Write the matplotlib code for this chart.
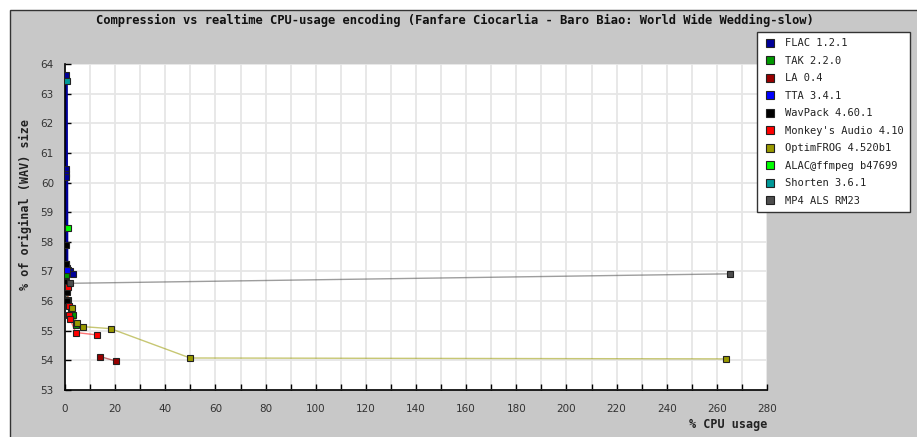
import matplotlib.pyplot as plt
from matplotlib.lines import Line2D
from matplotlib.patches import Rectangle

# values (% CPU usage, % of original size)
flac_cpu = [0.3, 0.35, 0.4, 0.45, 0.5, 0.6, 1.0, 1.8, 3.3]
flac_size = [63.64, 60.45, 60.3, 60.2, 57.25, 57.1, 57.05, 57.0, 56.92]
tak_cpu = [0.4, 0.6, 1.3, 2.3, 3.3, 4.3]
tak_size = [56.89, 56.4, 56.04, 55.76, 55.53, 55.2]
la_cpu = [13.9, 20.2]
la_size = [54.13, 53.98]
tta_cpu = [0.9]
tta_size = [57.05]
wavpack_cpu = [0.3, 0.4, 0.5, 0.6, 0.8]
wavpack_size = [57.9, 57.26, 56.65, 56.3, 56.0]
monkey_cpu = [1.1, 1.4, 1.6, 2.0, 4.3, 12.6]
monkey_size = [56.47, 55.84, 55.53, 55.39, 54.94, 54.86]
ofr_cpu = [2.9, 4.6, 7.0, 18.2, 49.9, 263.6]
ofr_size = [55.76, 55.26, 55.14, 55.07, 54.08, 54.05]
alac_cpu = [1.1]
alac_size = [58.48]
shorten_cpu = [0.6]
shorten_size = [63.42]
als_cpu = [2.0, 265.3]
als_size = [56.6, 56.92]

series = [
    ("FLAC 1.2.1", flac_cpu, flac_size, "#000099"),
    ("TAK 2.2.0", tak_cpu, tak_size, "#009900"),
    ("LA 0.4", la_cpu, la_size, "#990000"),
    ("TTA 3.4.1", tta_cpu, tta_size, "#0000ff"),
    ("WavPack 4.60.1", wavpack_cpu, wavpack_size, "#000000"),
    ("Monkey's Audio 4.10", monkey_cpu, monkey_size, "#ff0000"),
    ("OptimFROG 4.520b1", ofr_cpu, ofr_size, "#999900"),
    ("ALAC@ffmpeg b47699", alac_cpu, alac_size, "#00ff00"),
    ("Shorten 3.6.1", shorten_cpu, shorten_size, "#009999"),
    ("MP4 ALS RM23", als_cpu, als_size, "#4d4d4d"),
]

W, H = 917, 437
fig = plt.figure(figsize=(W / 100, H / 100), dpi=100, facecolor="white")

# grey panel with dark border on top/left, cut off at right and bottom
fig.patches.append(
    Rectangle((10 / W, -0.05), 1.2, (H - 10) / H + 0.05, transform=fig.transFigure,
              facecolor="#c8c8c8", edgecolor="#333333", linewidth=1, zorder=-10)
)

ax = fig.add_axes([65 / W, 47 / H, 702 / W, 326 / H])
ax.set_facecolor("white")

for name, xs, ys, color in series:
    lw = 3 if name.startswith("FLAC") else 1
    alpha = 1.0 if name.startswith("FLAC") else 0.55
    ax.plot(xs, ys, color=color, linewidth=lw, alpha=alpha, zorder=2)
    ax.plot(xs, ys, linestyle="none", marker="s", markersize=4.5,
            markerfacecolor=color, markeredgecolor="#222222", markeredgewidth=0.8, zorder=3)

ax.set_xlim(0, 280)
ax.set_ylim(53, 64)
ax.set_xticks(range(0, 281, 20))
ax.set_xticks(range(0, 281, 10), minor=True)
ax.set_yticks(range(53, 65))
ax.grid(True, which="both", color="#e6e6e6", linewidth=1.3, zorder=0)
ax.set_axisbelow(True)
for side in ("top", "right"):
    ax.spines[side].set_visible(False)
for side in ("left", "bottom"):
    ax.spines[side].set_color("black")
    ax.spines[side].set_linewidth(1.2)
ax.tick_params(which="both", direction="in", length=4, width=1, color="black",
               labelsize=7.5, labelcolor="#333333")
ax.tick_params(axis="x", pad=10)
ax.tick_params(axis="y", pad=8)

ax.set_xlabel("% CPU usage", fontfamily="DejaVu Sans Mono", fontweight="bold",
              fontsize=8.5, color="#222222")
ax.xaxis.set_label_coords(1.0, -0.085)
ax.xaxis.label.set_horizontalalignment("right")

fig.text(25 / W, 1 - 204 / H, "% of original (WAV) size", rotation=90,
         ha="center", va="center", fontfamily="DejaVu Sans Mono", fontweight="bold",
         fontsize=8.5, color="#222222")

fig.text(455 / W, 1 - 20 / H,
         "Compression vs realtime CPU-usage encoding (Fanfare Ciocarlia - Baro Biao: World Wide Wedding-slow)",
         ha="center", va="center", fontfamily="DejaVu Sans Mono", fontweight="bold",
         fontsize=8.7, color="#111111")

handles = [
    Line2D([], [], linestyle="none", marker="s", markersize=6, markerfacecolor=c,
           markeredgecolor="#222222", markeredgewidth=0.8)
    for _, _, _, c in series
]
leg = fig.legend(handles, [s[0] for s in series], loc="upper left",
                 bbox_to_anchor=(757 / W, 1 - 32 / H), borderaxespad=0,
                 frameon=True, fancybox=False,
                 edgecolor="#333333", framealpha=1, borderpad=0.6, labelspacing=0.72,
                 handletextpad=0.9, handlelength=1.2,
                 prop={"family": "DejaVu Sans Mono", "size": 7.5})
leg.get_frame().set_linewidth(1)
for t in leg.get_texts():
    t.set_color("#222222")

fig.savefig("out.png", dpi=100)
